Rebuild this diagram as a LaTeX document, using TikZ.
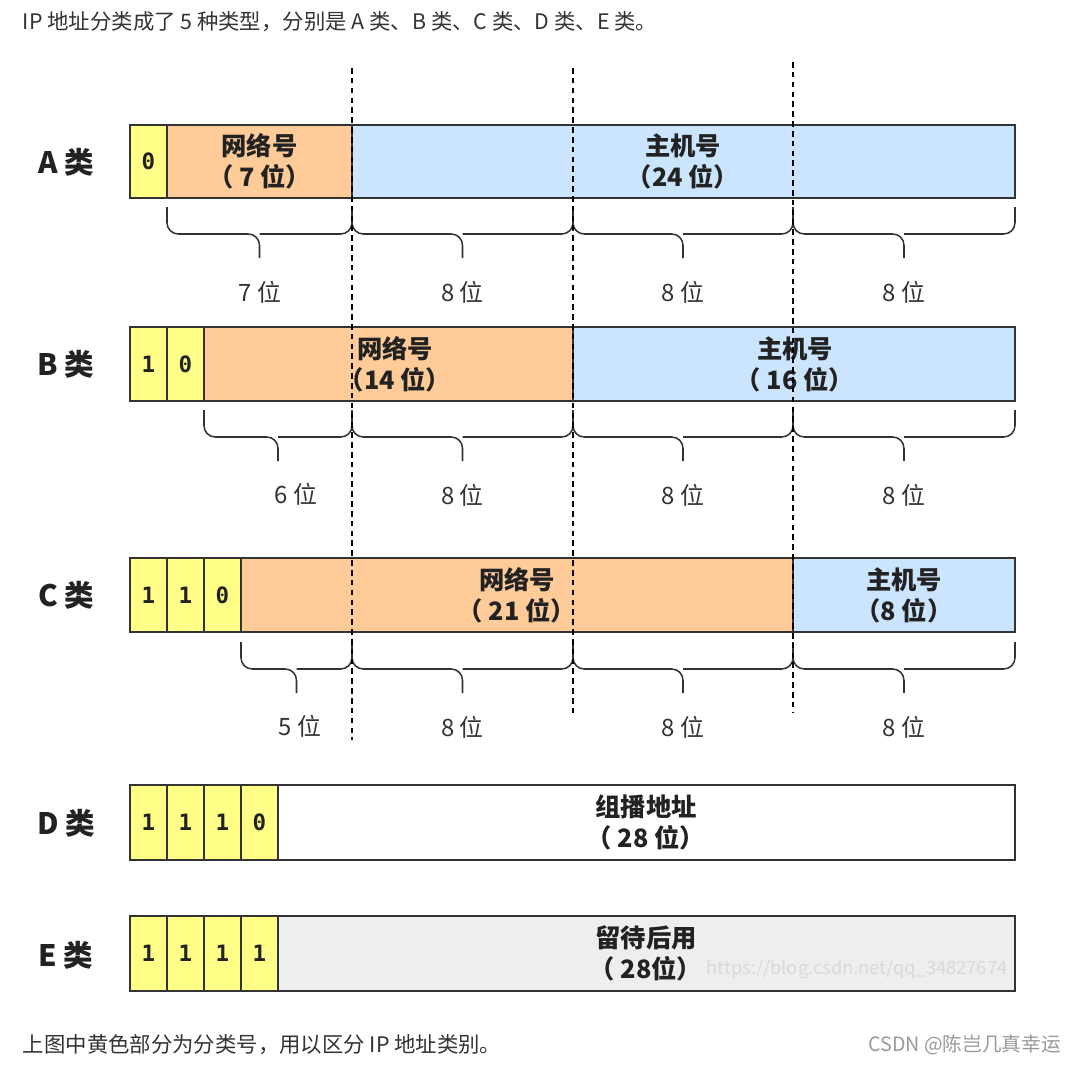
\documentclass[tikz,border=0pt]{standalone}
\usepackage{fontspec}
\setmainfont{Noto Sans CJK SC}
\newfontfamily\bitfont{DejaVu Sans Mono}
\usetikzlibrary{calc,positioning}
\definecolor{IpInk}{HTML}{333333}
\definecolor{IpText}{HTML}{222222}
\definecolor{IpYellow}{HTML}{FFFF88}
\definecolor{IpNet}{HTML}{FFCC99}
\definecolor{IpHost}{HTML}{CCE5FF}
\definecolor{IpSpare}{HTML}{EEEEEE}
\definecolor{IpMuted}{HTML}{999999}
\tikzset{
  every node/.style={text=IpText},
  field/.style={draw=IpInk, line width=1.8pt},
  bitcell/.style={field, fill=IpYellow},
  bitdigit/.style={font=\bitfont\bfseries\fontsize{16}{16}\selectfont},
  fieldname/.style={align=center, font=\bfseries\fontsize{18}{22}\selectfont},
  classname/.style={font=\bfseries\fontsize{21}{21}\selectfont},
  bracket/.style={draw=IpInk, line width=1.1pt, rounded corners=8pt},
  widthlabel/.style={font=\fontsize{17}{17}\selectfont, text=IpInk},
  divider/.style={draw=black, line width=1pt, dash pattern=on 4pt off 3pt},
  prose/.style={anchor=west, font=\fontsize{15.2}{15.2}\selectfont, text=IpInk},
}
\newcommand{\bitbrace}[3]{%
  \draw[bracket] (#1,#3) -- (#1,#3+27) -- ({(#1+#2)/2},#3+27) -- ({(#1+#2)/2},#3+51);
  \draw[bracket] (#2,#3) -- (#2,#3+27) -- ({(#1+#2)/2},#3+27);
}

\begin{document}
\begin{tikzpicture}[x=0.025cm, y=-0.025cm]
  \useasboundingbox[fill=white] (0,0) rectangle (1080,1065);
  % Captions
  \node[prose] (intro) at (18,22) {IP 地址分类成了 5 种类型，分别是 A 类、B 类、C 类、D 类、E 类。};
  \node[prose] (outro) at (18,1045) {上图中黄色部分为分类号，用以区分 IP 地址类别。};
  \node[anchor=east, font=\fontsize{14}{14}\selectfont, text=IpMuted] (credit) at (1066,1045) {CSDN @陈岂几真幸运};
  % Class A
  \node[classname] (classA) at (66,162) {A 类};
  \draw[field, fill=IpHost] (352,125) rectangle (1015,198);
  \draw[field, fill=IpNet] (167,125) rectangle (352,198);
  \node[fieldname] (netA) at (259.5,161.5) {网络号\\（ 7 位）};
  \node[fieldname] (hostA) at (683,161.5) {主机号\\（24 位）};
  \foreach \b [count=\i from 0] in {0} {
    \draw[bitcell] ({130+37*\i},125) rectangle ++(37,73);
    \node[bitdigit] (bitA-\i) at ({148.5+37*\i},161.5) {\b};
  }
  % Class B
  \node[classname] (classB) at (66,364) {B 类};
  \draw[field, fill=IpHost] (573,327) rectangle (1015,401);
  \draw[field, fill=IpNet] (204,327) rectangle (573,401);
  \node[fieldname] (netB) at (395,364) {网络号\\（14 位）};
  \node[fieldname] (hostB) at (795,364) {主机号\\（ 16 位）};
  \foreach \b [count=\i from 0] in {1,0} {
    \draw[bitcell] ({130+37*\i},327) rectangle ++(37,74);
    \node[bitdigit] (bitB-\i) at ({148.5+37*\i},364) {\b};
  }
  % Class C
  \node[classname] (classC) at (66,595) {C 类};
  \draw[field, fill=IpHost] (793,558) rectangle (1015,632);
  \draw[field, fill=IpNet] (241,558) rectangle (793,632);
  \node[fieldname] (netC) at (517,595) {网络号\\（ 21 位）};
  \node[fieldname] (hostC) at (904,595) {主机号\\（8 位）};
  \foreach \b [count=\i from 0] in {1,1,0} {
    \draw[bitcell] ({130+37*\i},558) rectangle ++(37,74);
    \node[bitdigit] (bitC-\i) at ({148.5+37*\i},595) {\b};
  }
  % Class D
  \node[classname] (classD) at (66,823) {D 类};
  \draw[field, fill=white] (278,785) rectangle (1015,860);
  \node[fieldname] (groupD) at (646,822) {组播地址\\（ 28 位）};
  \foreach \b [count=\i from 0] in {1,1,1,0} {
    \draw[bitcell] ({130+37*\i},785) rectangle ++(37,75);
    \node[bitdigit] (bitD-\i) at ({148.5+37*\i},822.5) {\b};
  }
  % Class E
  \node[classname] (classE) at (66,955) {E 类};
  \draw[field, fill=IpSpare] (278,916) rectangle (1015,991);
  \node[fieldname] (spareE) at (646,953) {留待后用\\（ 28位）};
  \node[font=\fontsize{13}{13}\selectfont, text=gray!30] (mark) at (857,969) {https://blog.csdn.net/qq\_34827674};
  \foreach \b [count=\i from 0] in {1,1,1,1} {
    \draw[bitcell] ({130+37*\i},916) rectangle ++(37,75);
    \node[bitdigit] (bitE-\i) at ({148.5+37*\i},953.5) {\b};
  }
  % Bit-width braces
  \foreach \y in {207,410,642} {
    \bitbrace{352}{573}{\y}
    \bitbrace{573}{793}{\y}
    \bitbrace{793}{1015}{\y}
    \node[widthlabel] at (462.5,\y+85) {8 位};
    \node[widthlabel] at (683,\y+85) {8 位};
    \node[widthlabel] at (904,\y+85) {8 位};
  }
  \bitbrace{167}{352}{207}
  \node[widthlabel] (widthA) at (260,292) {7 位};
  \bitbrace{204}{352}{410}
  \node[widthlabel] (widthB) at (296,494) {6 位};
  \bitbrace{241}{352}{642}
  \node[widthlabel] (widthC) at (300,726) {5 位};
  % Byte boundaries
  \draw[divider] (352,68) -- (352,740);
  \draw[divider] (573,68) -- (573,715);
  \draw[divider] (793,62) -- (793,712);
\end{tikzpicture}
\end{document}
